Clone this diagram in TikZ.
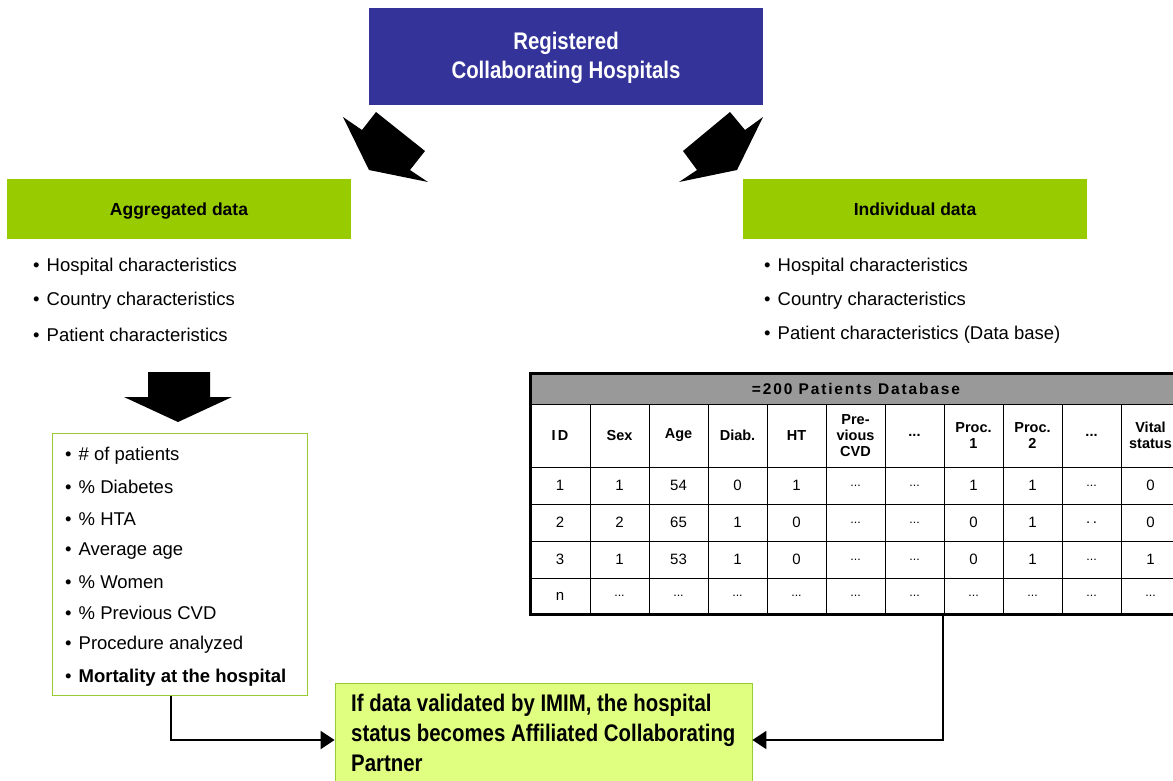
\documentclass[tikz,border=0pt]{standalone}
\usepackage{fontspec}
\setmainfont{Liberation Sans}
\newfontfamily\narrowfont[FakeStretch=0.85]{Liberation Sans}
\newfontfamily\spacedfont[LetterSpace=12]{Liberation Sans}
\usetikzlibrary{arrows.meta}
\definecolor{titleblue}{RGB}{51,51,153}
\definecolor{bargreen}{RGB}{153,204,0}
\definecolor{boxgreen}{RGB}{153,204,51}
\definecolor{paleyellow}{RGB}{224,255,128}
\definecolor{headgrey}{RGB}{153,153,153}
\newcommand{\smalldots}{{\fontsize{12.5}{13}\selectfont...}}

\begin{document}
\begin{tikzpicture}[x=1pt,y=-1pt,
    head/.style={fill=bargreen,minimum width=344pt,minimum height=60pt,inner sep=0pt,text depth=0pt,font=\bfseries\fontsize{17.5}{20}\selectfont},
    item/.style={anchor=west,inner sep=0pt,font=\fontsize{18.5}{22}\selectfont},
    hcell/.style={align=center,inner sep=0pt,font=\bfseries\fontsize{14.5}{16}\selectfont},
    cell/.style={inner sep=0pt,font=\fontsize{15}{16}\selectfont},
    link/.style={line width=2pt,-{Triangle[length=14pt,width=18pt]}}]
                        \clip (0,0) rectangle (1173,780);

                        % top box
                        \node[fill=titleblue,minimum width=394pt,minimum height=97pt,inner sep=0pt] (hosp) at (566,56.5) {};
                        \node[text=white,align=center,inner sep=0pt,font=\narrowfont\bfseries\fontsize{24}{29.5}\selectfont] (hosptext) at (566,58) {Registered\\Collaborating Hospitals};

                        % block arrows
                        \fill[black] (343,117)--(362,130)--(376,112)--(425,151)--(410,170)--(428,182)--(369,170)--cycle;
                        \fill[black] (763,117)--(745,130)--(730,112)--(683,151)--(697,170)--(679,182)--(737,170)--cycle;

                        % green bars
                        \node[head] (agg) at (179,209) {Aggregated data};
                        \node[head] (ind) at (915,209) {Individual data};

                        \node[item] (agg1) at (33,267) {\textbullet\hspace{7pt}Hospital characteristics};
                        \node[item] (agg2) at (33,301) {\textbullet\hspace{7pt}Country characteristics};
                        \node[item] (agg3) at (33,335) {\textbullet\hspace{7pt}Patient characteristics};

                        \node[item] (ind1) at (764,267) {\textbullet\hspace{7pt}Hospital characteristics};
                        \node[item] (ind2) at (764,301) {\textbullet\hspace{7pt}Country characteristics};
                        \node[item] (ind3) at (764,335) {\textbullet\hspace{7pt}Patient characteristics (Data base)};

                        % down arrow
                        \fill[black] (148,372)--(210,372)--(210,397)--(232,397)--(178,422)--(124,397)--(148,397)--cycle;

                        % list box
                        \node[draw=boxgreen,line width=0.8pt,minimum width=255pt,minimum height=262pt,inner sep=0pt] (list) at (179.5,564) {};
                        \node[item] (l1) at (65,456) {\textbullet\hspace{7pt}\# of patients};
                        \node[item] (l2) at (65,487) {\textbullet\hspace{7pt}\% Diabetes};
                        \node[item] (l3) at (65,519) {\textbullet\hspace{7pt}\% HTA};
                        \node[item] (l4) at (65,551) {\textbullet\hspace{7pt}Average age};
                        \node[item] (l5) at (65,582) {\textbullet\hspace{7pt}\% Women};
                        \node[item] (l6) at (65,613) {\textbullet\hspace{7pt}\% Previous CVD};
                        \node[item] (l7) at (65,645) {\textbullet\hspace{7pt}Procedure analyzed};
                        \node[item] (l8) at (65,678) {\textbullet\hspace{7pt}\textbf{Mortality at the hospital}};

                        % patients table
                        \fill[headgrey] (530,373) rectangle (1180,404);
                        \draw[line width=0.8pt] (530,404)--(1180,404);
                        \draw[line width=0.6pt] (530,467)--(1180,467);
                        \draw[line width=0.6pt] (530,504)--(1180,504);
                        \draw[line width=0.6pt] (530,541)--(1180,541);
                        \draw[line width=0.6pt] (530,578)--(1180,578);
                        \draw[line width=0.6pt] (590,404)--(590,614);
                        \draw[line width=0.6pt] (649,404)--(649,614);
                        \draw[line width=0.6pt] (708,404)--(708,614);
                        \draw[line width=0.6pt] (767,404)--(767,614);
                        \draw[line width=0.6pt] (826,404)--(826,614);
                        \draw[line width=0.6pt] (885,404)--(885,614);
                        \draw[line width=0.6pt] (944,404)--(944,614);
                        \draw[line width=0.6pt] (1003,404)--(1003,614);
                        \draw[line width=0.6pt] (1062,404)--(1062,614);
                        \draw[line width=0.6pt] (1121,404)--(1121,614);
                        \draw[line width=3pt] (530,373) rectangle (1180,614);

                        \node[hcell,font=\spacedfont\bfseries\fontsize{15.5}{16}\selectfont] (dbtitle) at (856,388.5) {=200 Patients Database};

                        \node[hcell] (hid) at (560,435.5) {I\,D};
                        \node[hcell] (hsex) at (619.5,435.5) {Sex};
                        \node[hcell] (hage) at (678.5,435.5) {Age};
                        \node[hcell] (hdiab) at (737.5,435.5) {Diab.};
                        \node[hcell] (hht) at (796.5,435.5) {HT};
                        \node[hcell] (hcvd) at (855.5,435.5) {Pre-\\vious\\CVD};
                        \node[hcell] (hdots) at (914.5,435.5) {...};
                        \node[hcell] (hproca) at (973.5,435.5) {Proc.\\1};
                        \node[hcell] (hprocb) at (1032.5,435.5) {Proc.\\2};
                        \node[hcell] (hmore) at (1091.5,435.5) {...};
                        \node[hcell] (hvital) at (1150.5,435.5) {Vital\\status};

                        \node[cell] (a1) at (560,485.5) {1};
                        \node[cell] (a2) at (619.5,485.5) {1};
                        \node[cell] (a3) at (678.5,485.5) {54};
                        \node[cell] (a4) at (737.5,485.5) {0};
                        \node[cell] (a5) at (796.5,485.5) {1};
                        \node[cell] (a6) at (855.5,485.5) {\smalldots};
                        \node[cell] (a7) at (914.5,485.5) {\smalldots};
                        \node[cell] (a8) at (973.5,485.5) {1};
                        \node[cell] (a9) at (1032.5,485.5) {1};
                        \node[cell] (a10) at (1091.5,485.5) {\smalldots};
                        \node[cell] (a11) at (1150.5,485.5) {0};

                        \node[cell] (b1) at (560,522.5) {2};
                        \node[cell] (b2) at (619.5,522.5) {2};
                        \node[cell] (b3) at (678.5,522.5) {65};
                        \node[cell] (b4) at (737.5,522.5) {1};
                        \node[cell] (b5) at (796.5,522.5) {0};
                        \node[cell] (b6) at (855.5,522.5) {\smalldots};
                        \node[cell] (b7) at (914.5,522.5) {\smalldots};
                        \node[cell] (b8) at (973.5,522.5) {0};
                        \node[cell] (b9) at (1032.5,522.5) {1};
                        \node[cell] (b10) at (1091.5,522.5) {.\,.};
                        \node[cell] (b11) at (1150.5,522.5) {0};

                        \node[cell] (c1) at (560,559.5) {3};
                        \node[cell] (c2) at (619.5,559.5) {1};
                        \node[cell] (c3) at (678.5,559.5) {53};
                        \node[cell] (c4) at (737.5,559.5) {1};
                        \node[cell] (c5) at (796.5,559.5) {0};
                        \node[cell] (c6) at (855.5,559.5) {\smalldots};
                        \node[cell] (c7) at (914.5,559.5) {\smalldots};
                        \node[cell] (c8) at (973.5,559.5) {0};
                        \node[cell] (c9) at (1032.5,559.5) {1};
                        \node[cell] (c10) at (1091.5,559.5) {\smalldots};
                        \node[cell] (c11) at (1150.5,559.5) {1};

                        \node[cell] (d1) at (560,596) {n};
                        \node[cell] (d2) at (619.5,596) {\smalldots};
                        \node[cell] (d3) at (678.5,596) {\smalldots};
                        \node[cell] (d4) at (737.5,596) {\smalldots};
                        \node[cell] (d5) at (796.5,596) {\smalldots};
                        \node[cell] (d6) at (855.5,596) {\smalldots};
                        \node[cell] (d7) at (914.5,596) {\smalldots};
                        \node[cell] (d8) at (973.5,596) {\smalldots};
                        \node[cell] (d9) at (1032.5,596) {\smalldots};
                        \node[cell] (d10) at (1091.5,596) {\smalldots};
                        \node[cell] (d11) at (1150.5,596) {\smalldots};

                        % result box
                        \node[draw=boxgreen,fill=paleyellow,line width=0.8pt,minimum width=417pt,minimum height=114pt,inner sep=0pt] (final) at (543.5,740) {};
                        \node[anchor=north west,align=left,inner sep=0pt,font=\narrowfont\bfseries\fontsize{24}{30}\selectfont] (finaltext) at (351,694)
                              {If data validated by IMIM, the hospital\\status becomes Affiliated Collaborating\\Partner};

                        \coordinate (lout) at (171,696);
                        \coordinate (rout) at (943,614);
                        \draw[link] (lout) |- (final.west);
                        \draw[link] (rout) |- (final.east);
                    \end{tikzpicture}
\end{document}
